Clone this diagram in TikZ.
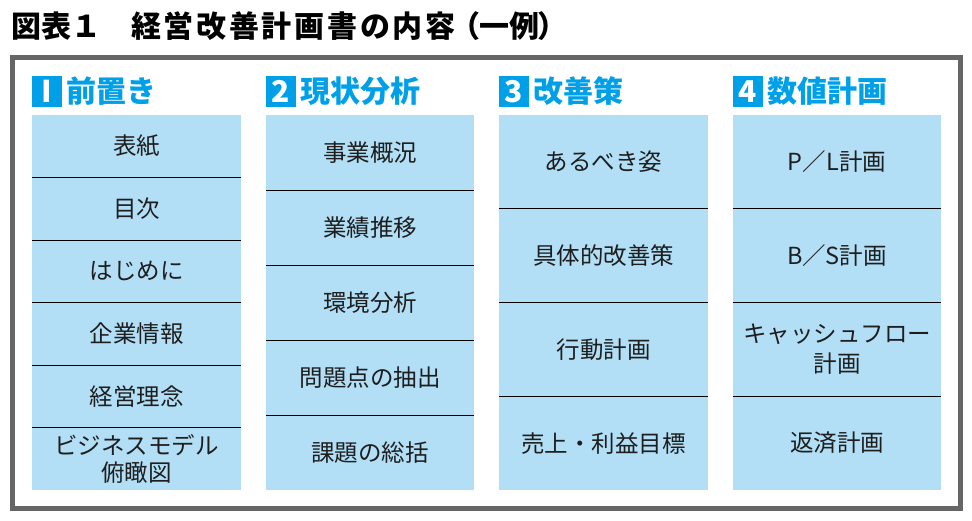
\documentclass[tikz,border=0pt]{standalone}
\usepackage{fontspec}
\setmainfont{Noto Sans CJK JP}
\newfontfamily\spacedfont[LetterSpace=9]{Noto Sans CJK JP}
\newfontfamily\paltfont[RawFeature=+palt]{Noto Sans CJK JP}
\definecolor{hdblue}{RGB}{0,160,233}
\definecolor{cellblue}{RGB}{178,223,245}
\definecolor{framegray}{RGB}{102,102,102}
\definecolor{celltext}{RGB}{30,30,30}
\begin{document}
\begin{tikzpicture}[x=1pt,y=-1pt,
  cell/.style={fill=cellblue,minimum width=209pt,inner sep=0pt,align=center,text=celltext,font=\fontsize{23.5}{28}\selectfont},
  numbox/.style={fill=hdblue,minimum width=30pt,minimum height=31pt,inner sep=0pt,text=white,font=\bfseries\fontsize{30}{30}\selectfont},
  hdtext/.style={anchor=west,inner sep=0pt,text=hdblue,font=\bfseries\fontsize{30}{30}\selectfont},
  divider/.style={line width=1pt,black},
  titletext/.style={anchor=west,inner sep=0pt,text=black,font=\bfseries\fontsize{30}{30}\selectfont}]
\useasboundingbox[fill=white] (0,0) rectangle (972,521);
% title
\node[titletext] (t1) at (11,26) {図表１};
\node[titletext,font=\spacedfont\bfseries\fontsize{30}{30}\selectfont] (t2) at (131,26) {経営改善計画書の内容};
\node[titletext,font=\paltfont\bfseries\fontsize{30}{30}\selectfont] (t3) at (464,26) {（一例）};
% frame
\draw[framegray,line width=5pt] (12.5,57.5) rectangle (960,508);
% headers
\node[numbox] (n1) at (47,91.5) {I};
\node[hdtext] (h1) at (66,91.5) {前置き};
\node[numbox] (n2) at (281,91.5) {2};
\node[hdtext] (h2) at (300,91.5) {現状分析};
\node[numbox] (n3) at (514,91.5) {3};
\node[hdtext] (h3) at (533,91.5) {改善策};
\node[numbox] (n4) at (748,91.5) {4};
\node[hdtext] (h4) at (767,91.5) {数値計画};
% column 1
\begin{scope}[every node/.style={cell,minimum height=62.5pt}]
\node (a1) at (136.5,146.25) {表紙};
\node (a2) at (136.5,208.75) {目次};
\node (a3) at (136.5,271.25) {はじめに};
\node (a4) at (136.5,333.75) {企業情報};
\node (a5) at (136.5,396.25) {経営理念};
\node[font=\fontsize{23.5}{27}\selectfont] (a6) at (136.5,458.75) {ビジネスモデル\\俯瞰図};
\end{scope}
% column 2
\begin{scope}[every node/.style={cell,minimum width=208pt,minimum height=75pt}]
\node (b1) at (370,152.5) {事業概況};
\node (b2) at (370,227.5) {業績推移};
\node (b3) at (370,302.5) {環境分析};
\node (b4) at (370,377.5) {問題点の抽出};
\node (b5) at (370,452.5) {課題の総括};
\end{scope}
% column 3
\begin{scope}[every node/.style={cell,minimum height=93.75pt}]
\node (c1) at (603.5,161.875) {あるべき姿};
\node (c2) at (603.5,255.625) {具体的改善策};
\node (c3) at (603.5,349.375) {行動計画};
\node (c4) at (603.5,443.125) {売上・利益目標};
\end{scope}
% column 4
\begin{scope}[every node/.style={cell,minimum width=208pt,minimum height=93.75pt}]
\node (d1) at (837,161.875) {P／L計画};
\node (d2) at (837,255.625) {B／S計画};
\node[font=\fontsize{23.5}{30}\selectfont] (d3) at (837,349.375) {キャッシュフロー\\計画};
\node (d4) at (837,443.125) {返済計画};
\end{scope}
% dividers
\foreach \u in {a1,a2,a3,a4,a5,b1,b2,b3,b4,c1,c2,c3,d1,d2,d3}
  \draw[divider] (\u.south west) -- (\u.south east);
\end{tikzpicture}
\end{document}
